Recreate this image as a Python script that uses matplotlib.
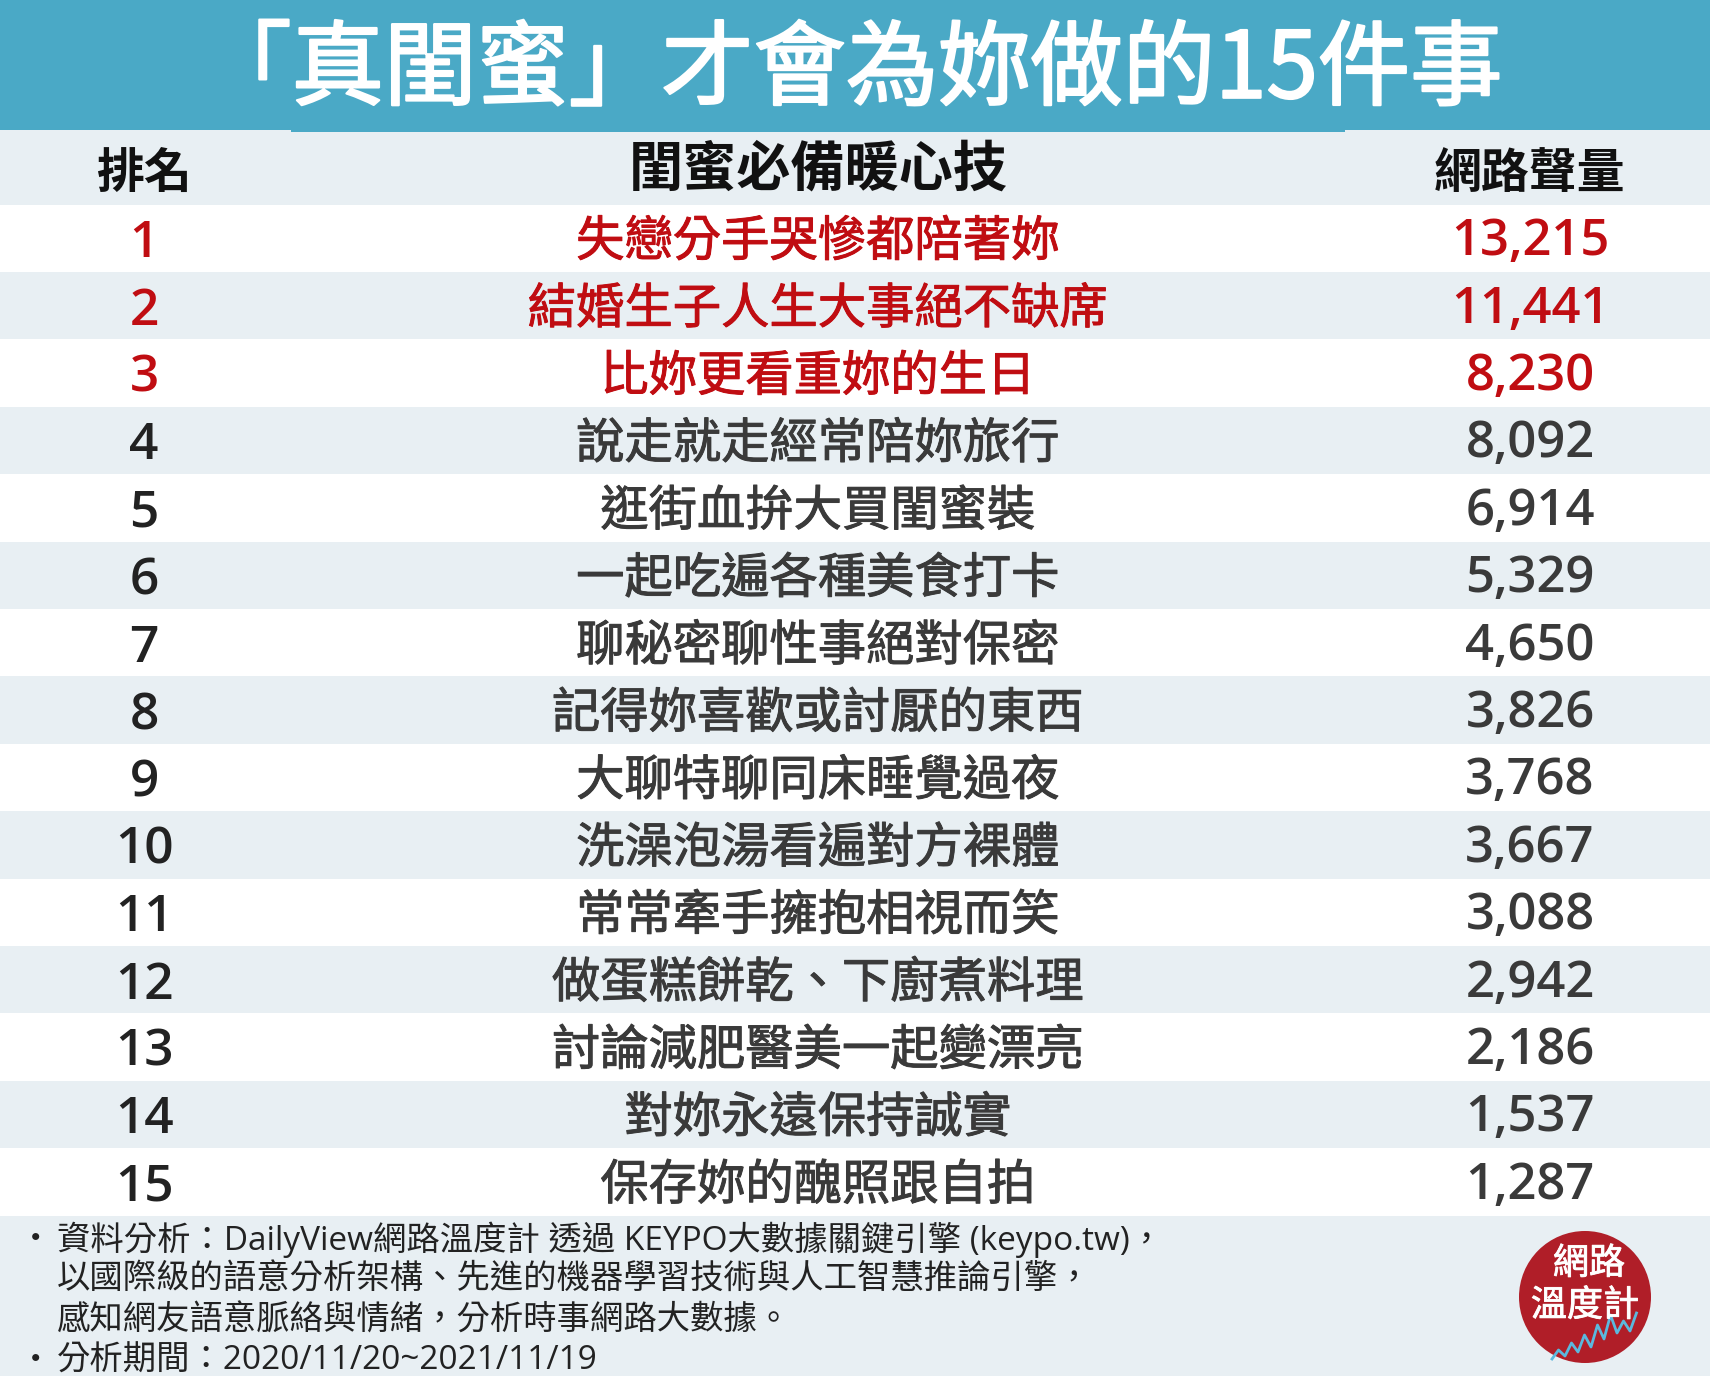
import matplotlib
matplotlib.use("Agg")
import matplotlib.pyplot as plt
from matplotlib.patches import Rectangle, Circle
import matplotlib.patheffects as pe

plt.rcParams['font.family'] = ['Noto Sans CJK TC', 'DejaVu Sans']

title = "「真閨蜜」才會為妳做的15件事"
headers = ["排名", "閨蜜必備暖心技", "網路聲量"]
ranks = list(range(1, 16))
items = ["失戀分手哭慘都陪著妳", "結婚生子人生大事絕不缺席", "比妳更看重妳的生日",
         "說走就走經常陪妳旅行", "逛街血拚大買閨蜜裝", "一起吃遍各種美食打卡",
         "聊秘密聊性事絕對保密", "記得妳喜歡或討厭的東西", "大聊特聊同床睡覺過夜",
         "洗澡泡湯看遍對方裸體", "常常牽手擁抱相視而笑", "做蛋糕餅乾、下廚煮料理",
         "討論減肥醫美一起變漂亮", "對妳永遠保持誠實", "保存妳的醜照跟自拍"]
values = [13215, 11441, 8230, 8092, 6914, 5329, 4650, 3826, 3768, 3667, 3088, 2942, 2186, 1537, 1287]
notes = ["資料分析：DailyView網路溫度計 透過 KEYPO大數據關鍵引擎 (keypo.tw)，",
         "以國際級的語意分析架構、先進的機器學習技術與人工智慧推論引擎，",
         "感知網友語意脈絡與情緒，分析時事網路大數據。",
         "分析期間：2020/11/20~2021/11/19"]
note_bullets = ["·", "", "", "·"]
logo_lines = ["網路", "溫度計"]
logo_wave = [0, 9, 3, 16, 7, 24, 12, 34, 20, 44, 26, 38, 28, 46]

BAND = "#4aa9c6"; PALE = "#e8eff3"; RED = "#c00d12"; DARK = "#3a3a3a"


def thick(w, c):
    return [pe.withStroke(linewidth=w, foreground=c)]


fig = plt.figure(figsize=(17.10, 13.76), dpi=100)
ax = fig.add_axes([0, 0, 1, 1])
ax.set_xlim(0, 1710); ax.set_ylim(1376, 0); ax.axis("off")

ax.add_patch(Rectangle((0, 0), 1710, 1376, color=PALE, lw=0))
ax.add_patch(Rectangle((0, 0), 1710, 130, color=BAND, lw=0))
ax.add_patch(Rectangle((291, 130), 1054, 2, color=BAND, lw=0))
ax.text(851, 71, title, color="white", fontsize=66.5, ha="center", va="center",
        path_effects=thick(1.6, "white"))

ax.text(144, 174, headers[0], fontsize=34.5, fontweight="bold", color="#111111", ha="center", va="center")
ax.text(818, 170, headers[1], fontsize=39, fontweight="bold", color="#111111", ha="center", va="center")
ax.text(1530, 174, headers[2], fontsize=34.5, fontweight="bold", color="#111111", ha="center", va="center")

row_top, row_h = 204.5, 67.4
for i, (r, it, v) in enumerate(zip(ranks, items, values)):
    y = row_top + row_h * i
    if i % 2 == 0:
        ax.add_patch(Rectangle((0, y), 1710, row_h, color="white", lw=0))
    c = RED if i < 3 else DARK
    rc = RED if i < 3 else "#222222"
    cy = y + row_h / 2
    ax.text(144, cy + 6, str(r), fontsize=37, fontweight=600, family="Open Sans", color=rc, ha="center", va="center")
    ax.text(818, cy + 4, it, fontsize=34.8, color=c, ha="center", va="center", path_effects=thick(0.7, c))
    ax.text(1530, cy + 4, f"{v:,}", fontsize=36.5, fontweight=600, family="Open Sans", color=c, ha="center", va="center")

for i, (b, line) in enumerate(zip(note_bullets, notes)):
    ty = 1240 + i * 40.3
    if b:
        ax.text(36, ty, b, fontsize=24, color="#222222", ha="center", va="center")
    ax.text(57, ty, line, fontsize=24, color="#222222", ha="left", va="center",
            family=['Open Sans', 'Noto Sans CJK TC'])

# logo
cx, cy, rad = 1585, 1297, 66
ax.add_patch(Circle((cx, cy), rad, color="#b01e28", lw=0))
ax.text(cx + 4, 1264, logo_lines[0], fontsize=26, color="white", ha="center", va="center", path_effects=thick(0.6, "white"))
ax.text(cx, 1306, logo_lines[1], fontsize=26, color="white", ha="center", va="center", path_effects=thick(0.6, "white"))
wx = [cx - 33 + k * 6.5 for k in range(len(logo_wave))]
wy = [cy + 62 - w for w in logo_wave]
ax.plot(wx, wy, color="#5bb8de", lw=2)

fig.savefig("out.png", dpi=100)
